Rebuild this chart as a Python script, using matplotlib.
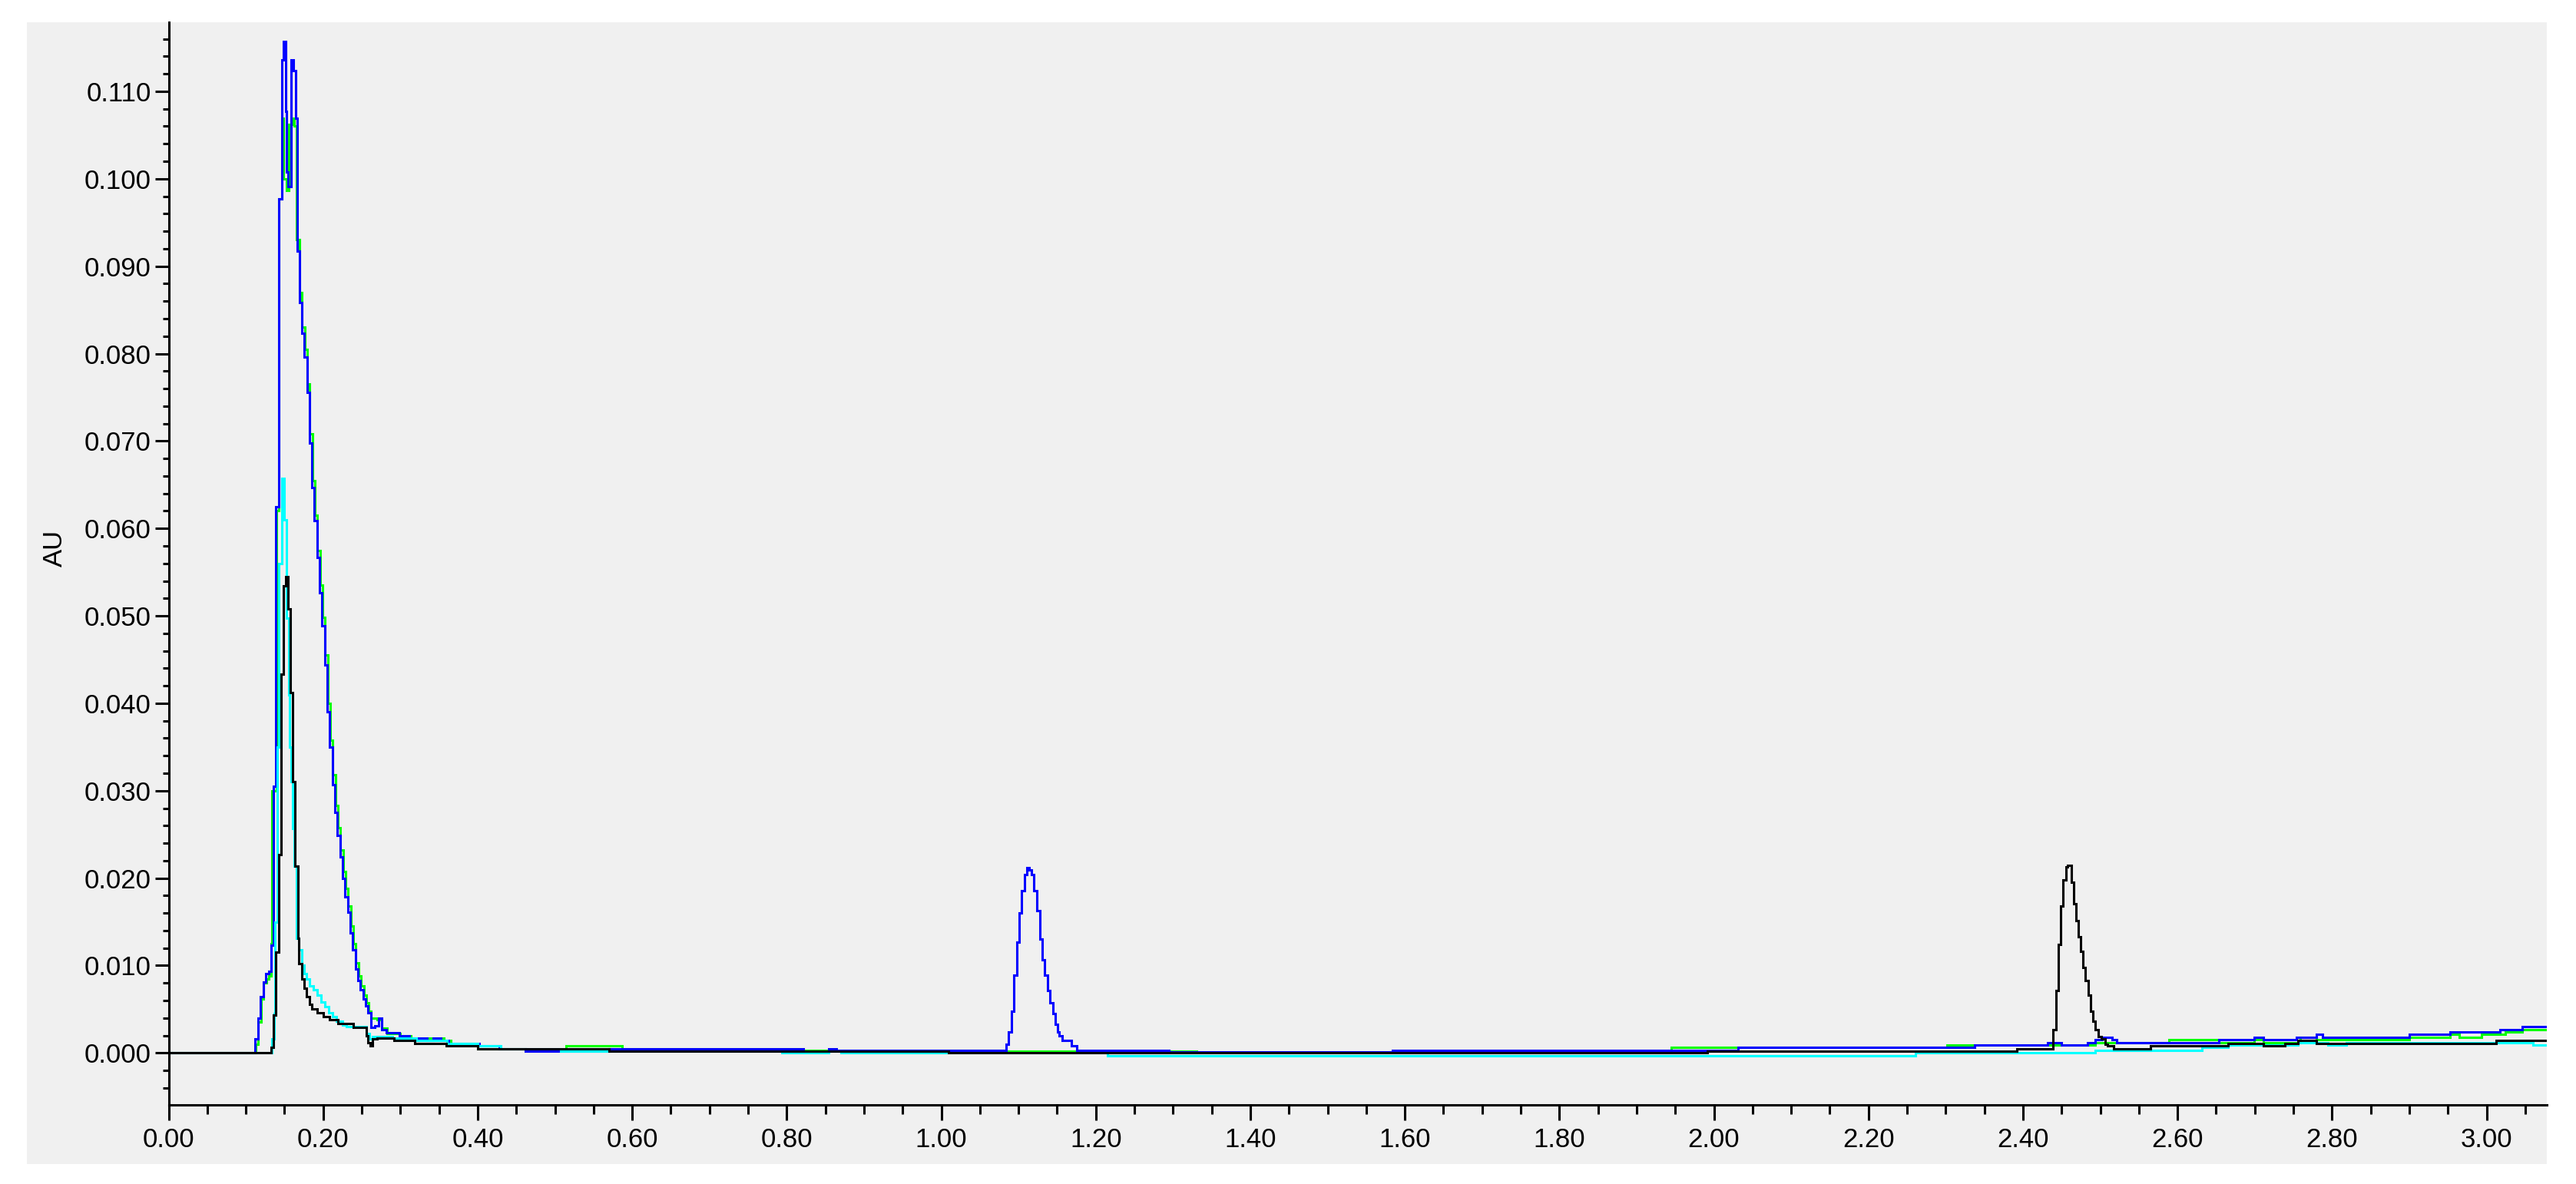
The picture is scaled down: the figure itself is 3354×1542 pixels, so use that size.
"""Chromatogram overlay: four UV traces (AU vs. minutes)."""

import matplotlib

matplotlib.use("Agg")
import matplotlib.pyplot as plt
from matplotlib.patches import Rectangle
from matplotlib.ticker import MultipleLocator, FormatStrFormatter

# ---- data -----------------------------------------------------------------
blue_t = [0.0, 0.1097, 0.1121, 0.1157, 0.1190, 0.1223, 0.1256, 0.1296, 0.1326, 0.1356,
          0.1389, 0.1425, 0.1462, 0.1488, 0.1515, 0.1522, 0.1548, 0.1588, 0.1618, 0.1648,
          0.1665, 0.1691, 0.1724, 0.1757, 0.1790, 0.1820, 0.1853, 0.1886, 0.1919, 0.1952,
          0.1985, 0.2018, 0.2052, 0.2085, 0.2118, 0.2151, 0.2184, 0.2217, 0.2250, 0.2284,
          0.2317, 0.2350, 0.2383, 0.2416, 0.2449, 0.2483, 0.2516, 0.2549, 0.2582, 0.2615,
          0.2671, 0.2720, 0.2760, 0.2820, 0.2990, 0.3117, 0.3345, 0.3420, 0.3523, 0.3624,
          0.4020, 0.4283, 0.4613, 0.5704, 0.8214, 0.8544, 0.8645, 1.0810, 1.0839, 1.0868,
          1.0906, 1.0938, 1.0975, 1.1008, 1.1041, 1.1075, 1.1104, 1.1137, 1.1167, 1.1202,
          1.1236, 1.1272, 1.1306, 1.1336, 1.1373, 1.1406, 1.1441, 1.1475, 1.1505, 1.1530,
          1.1565, 1.1680, 1.1750, 1.2946, 1.5840, 2.0308, 2.3371, 2.4314, 2.4500, 2.4835,
          2.4931, 2.5027, 2.5156, 2.5218, 2.6534, 2.6988, 2.7108, 2.7539, 2.7802, 2.7874,
          2.9000, 2.9526, 3.0172, 3.0460, 3.0780]
blue_au = [0.0, 0.0, 0.0016, 0.0040, 0.0064, 0.0081, 0.0091, 0.0093, 0.0123, 0.0305,
           0.0625, 0.0977, 0.1136, 0.1157, 0.1077, 0.1008, 0.0991, 0.1136, 0.1124, 0.1069,
           0.0917, 0.0858, 0.0823, 0.0796, 0.0756, 0.0698, 0.0647, 0.0609, 0.0567, 0.0526,
           0.0489, 0.0444, 0.0390, 0.0350, 0.0307, 0.0275, 0.0249, 0.0224, 0.0200, 0.0179,
           0.0161, 0.0137, 0.0118, 0.0096, 0.0083, 0.0072, 0.0062, 0.0054, 0.0046, 0.0029,
           0.0031, 0.0040, 0.0027, 0.0023, 0.0020, 0.0017, 0.0014, 0.0017, 0.0014, 0.0011,
           0.0008, 0.0005, 0.0002, 0.0005, 0.0002, 0.0005, 0.0003, 0.0003, 0.0010, 0.0024,
           0.0048, 0.0089, 0.0127, 0.0160, 0.0186, 0.0204, 0.0212, 0.0209, 0.0204, 0.0186,
           0.0163, 0.0130, 0.0107, 0.0089, 0.0071, 0.0057, 0.0045, 0.0033, 0.0024, 0.0020,
           0.0014, 0.0008, 0.0003, 0.0001, 0.0003, 0.0006, 0.0009, 0.0012, 0.0009, 0.0012,
           0.0015, 0.0018, 0.0015, 0.0012, 0.0015, 0.0018, 0.0015, 0.0018, 0.0021, 0.0018,
           0.0021, 0.0024, 0.0027, 0.0030, 0.0030]

green_t = [0.0, 0.1100, 0.1125, 0.1160, 0.1195, 0.1228, 0.1262, 0.1300, 0.1330, 0.1340,
           0.1395, 0.1430, 0.1465, 0.1490, 0.1525, 0.1555, 0.1595, 0.1625, 0.1655, 0.1695,
           0.1728, 0.1762, 0.1795, 0.1828, 0.1860, 0.1893, 0.1926, 0.1960, 0.1993, 0.2026,
           0.2060, 0.2093, 0.2126, 0.2160, 0.2192, 0.2225, 0.2258, 0.2292, 0.2325, 0.2358,
           0.2391, 0.2424, 0.2457, 0.2491, 0.2524, 0.2557, 0.2590, 0.2623, 0.2700, 0.2760,
           0.2830, 0.3000, 0.3140, 0.3560, 0.3650, 0.4000, 0.4620, 0.5146, 0.5872, 0.8214,
           1.0800, 1.3300, 1.9452, 2.3016, 2.4931, 2.5888, 2.6534, 2.6988, 2.7108, 2.7587,
           2.7802, 2.9000, 2.9526, 2.9646, 2.9933, 3.0244, 3.0460, 3.0780]
green_au = [0.0, 0.0, 0.0010, 0.0035, 0.0062, 0.0080, 0.0085, 0.0088, 0.0125, 0.0300,
            0.0620, 0.0977, 0.1069, 0.1000, 0.0987, 0.1062, 0.1069, 0.1060, 0.0930, 0.0870,
            0.0830, 0.0805, 0.0765, 0.0708, 0.0655, 0.0615, 0.0575, 0.0535, 0.0498, 0.0455,
            0.0400, 0.0358, 0.0318, 0.0283, 0.0258, 0.0232, 0.0208, 0.0188, 0.0168, 0.0145,
            0.0125, 0.0103, 0.0088, 0.0077, 0.0066, 0.0057, 0.0048, 0.0040, 0.0038, 0.0028,
            0.0022, 0.0020, 0.0017, 0.0014, 0.0011, 0.0005, 0.0003, 0.0008, 0.0005, 0.0003,
            0.0002, 0.0001, 0.0006, 0.0009, 0.0012, 0.0015, 0.0012, 0.0015, 0.0012, 0.0018,
            0.0015, 0.0018, 0.0021, 0.0018, 0.0021, 0.0024, 0.0027, 0.0027]

cyan_t = [0.0, 0.1313, 0.1336, 0.1362, 0.1379, 0.1405, 0.1429, 0.1462, 0.1495, 0.1522,
          0.1550, 0.1565, 0.1588, 0.1600, 0.1621, 0.1654, 0.1687, 0.1720, 0.1753, 0.1787,
          0.1820, 0.1870, 0.1920, 0.1970, 0.2020, 0.2070, 0.2120, 0.2170, 0.2250, 0.2300,
          0.2560, 0.2600, 0.2640, 0.2900, 0.3200, 0.3600, 0.4000, 0.4300, 0.5070, 0.7935,
          0.8544, 0.8700, 1.2148, 2.2611, 2.4931, 2.6319, 2.6653, 2.7563, 2.7946, 2.8186,
          3.0603, 3.0780]
cyan_au = [0.0, 0.0, 0.0016, 0.0045, 0.0150, 0.0350, 0.0560, 0.0657, 0.0610, 0.0497,
           0.0410, 0.0350, 0.0310, 0.0257, 0.0214, 0.0131, 0.0118, 0.0100, 0.0091, 0.0085,
           0.0077, 0.0072, 0.0066, 0.0058, 0.0053, 0.0046, 0.0042, 0.0036, 0.0032, 0.0030,
           0.0022, 0.0016, 0.0019, 0.0017, 0.0014, 0.0011, 0.0008, 0.0005, 0.0002, 0.0000,
           0.0002, 0.0000, -0.0003, 0.0000, 0.0003, 0.0006, 0.0009, 0.0012, 0.0009, 0.0012,
           0.0009, 0.0009]

black_t = [0.0, 0.1296, 0.1329, 0.1356, 0.1389, 0.1422, 0.1452, 0.1488, 0.1518, 0.1545,
           0.1571, 0.1604, 0.1637, 0.1671, 0.1687, 0.1720, 0.1753, 0.1787, 0.1820, 0.1853,
           0.1926, 0.1999, 0.2085, 0.2191, 0.2390, 0.2555, 0.2580, 0.2605, 0.2638, 0.2700,
           0.2914, 0.3184, 0.3593, 0.4000, 0.5704, 1.0091, 1.9910, 2.3923, 2.4393, 2.4427,
           2.4455, 2.4488, 2.4522, 2.4556, 2.4581, 2.4624, 2.4656, 2.4691, 2.4720, 2.4750,
           2.4780, 2.4810, 2.4844, 2.4874, 2.4904, 2.4939, 2.4971, 2.5010, 2.5060, 2.5097,
           2.5170, 2.5648, 2.6653, 2.7108, 2.7395, 2.7563, 2.7802, 3.0124, 3.0780]
black_au = [0.0, 0.0, 0.0006, 0.0043, 0.0115, 0.0227, 0.0433, 0.0534, 0.0545, 0.0508,
            0.0412, 0.0310, 0.0214, 0.0131, 0.0102, 0.0085, 0.0074, 0.0064, 0.0056, 0.0050,
            0.0046, 0.0042, 0.0038, 0.0034, 0.0029, 0.0020, 0.0012, 0.0008, 0.0016, 0.0017,
            0.0014, 0.0011, 0.0008, 0.0005, 0.0002, 0.0000, 0.0002, 0.0005, 0.0027, 0.0071,
            0.0124, 0.0168, 0.0198, 0.0213, 0.0215, 0.0195, 0.0171, 0.0151, 0.0133, 0.0116,
            0.0098, 0.0083, 0.0066, 0.0048, 0.0036, 0.0027, 0.0019, 0.0016, 0.0010, 0.0008,
            0.0005, 0.0008, 0.0011, 0.0008, 0.0011, 0.0014, 0.0011, 0.0014, 0.0014]

traces = [
    (green_t, green_au, "#00FF00"),
    (blue_t, blue_au, "#0000FF"),
    (cyan_t, cyan_au, "#00FFFF"),
    (black_t, black_au, "#000000"),
]

# ---- figure ----------------------------------------------------------------
W, H, DPI = 3355, 1542, 100
BG = "#F0F0F0"
plt.rcParams["font.family"] = ["Liberation Sans", "DejaVu Sans"]

fig = plt.figure(figsize=(W / DPI, H / DPI), dpi=DPI, facecolor="white")

ax_l, ax_r, ax_t, ax_b = 219.6, 3316, 29, 1438.5
ax = fig.add_axes([ax_l / W, 1 - ax_b / H, (ax_r - ax_l) / W, (ax_b - ax_t) / H])
ax.set_facecolor(BG)

# grey panel behind the plot (pixel box -> figure fraction), kept under the axes
px0, py0, px1, py1 = 35, 29, 3316, 1516
fig.patches.append(Rectangle((px0 / W, 1 - py1 / H), (px1 - px0) / W, (py1 - py0) / H,
                             transform=fig.transFigure, facecolor=BG, edgecolor="none",
                             zorder=-10))

for t, au, color in traces:
    ax.plot(t, au, color=color, lw=2.2, drawstyle="steps-post", solid_joinstyle="miter")

ax.set_xlim(0, 3.078)
ax.set_ylim(-0.0059, 0.1179)

ax.xaxis.set_major_locator(MultipleLocator(0.2))
ax.xaxis.set_minor_locator(MultipleLocator(0.05))
ax.xaxis.set_major_formatter(FormatStrFormatter("%.2f"))
ax.yaxis.set_major_locator(MultipleLocator(0.01))
ax.yaxis.set_minor_locator(MultipleLocator(0.002))
ax.yaxis.set_major_formatter(FormatStrFormatter("%.3f"))

for side in ("top", "right"):
    ax.spines[side].set_visible(False)
for side in ("left", "bottom"):
    ax.spines[side].set_linewidth(2.2)
    ax.spines[side].set_color("black")

ax.tick_params(axis="x", which="major", length=14.5, width=2.2, pad=7, labelsize=25)
ax.tick_params(axis="x", which="minor", length=8.5, width=2.2)
ax.tick_params(axis="y", which="major", length=13, width=2.2, pad=3.6, labelsize=25)
ax.tick_params(axis="y", which="minor", length=6, width=2.2)

ax.set_ylabel("AU", fontsize=25)
ax.yaxis.set_label_coords(-0.0425, 0.514)

fig.savefig("out.png", dpi=DPI, facecolor="white")
plt.close(fig)
